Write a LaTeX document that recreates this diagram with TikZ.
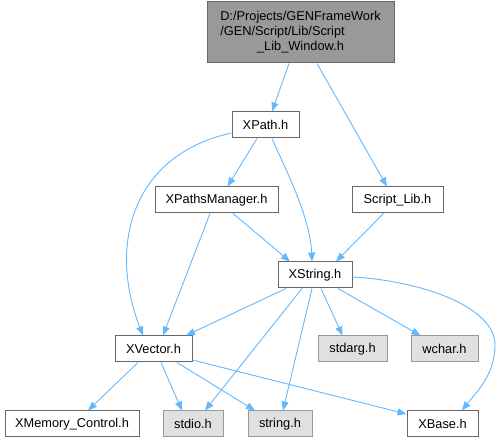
\documentclass[tikz,border=0pt]{standalone}
\usepackage{fontspec}
\setmainfont{Liberation Sans}
\usetikzlibrary{arrows.meta}
\definecolor{edgec}{HTML}{63B8FF}
\definecolor{bord}{HTML}{666666}
\definecolor{sysbord}{HTML}{999999}
\definecolor{sysfill}{HTML}{E0E0E0}
\definecolor{topfill}{HTML}{999999}
\begin{document}
\begin{tikzpicture}[x=1pt,y=-1pt,
  every node/.style={font=\fontsize{12.8}{15}\selectfont, inner sep=0pt, line width=1pt},
  nd/.style={draw=bord, fill=white, minimum height=26pt},
  sysnd/.style={draw=sysbord, fill=sysfill, minimum height=26pt},
  topnd/.style={draw=bord, fill=topfill, minimum height=61pt, minimum width=187pt},
  edge/.style={draw=edgec, line width=0.9pt, -{Triangle[length=9pt,width=7pt]}}
]
\useasboundingbox (0,0) rectangle (501,443);
\node[topnd] (top) at (300.5,32.5) {\begin{tabular}{@{}l@{}}D:/Projects/GENFrameWork\\/GEN/Script/Lib/Script\\\multicolumn{1}{@{}c@{}}{\_Lib\_Window.h}\end{tabular}};
\node[nd, minimum width=67pt] (xpath) at (265.5,125) {XPath.h};
\node[nd, minimum width=123pt] (xpm) at (216.5,200) {XPathsManager.h};
\node[nd, minimum width=91pt] (slib) at (397.5,200) {Script\_Lib.h};
\node[nd, minimum width=74pt] (xstr) at (315,275) {XString.h};
\node[nd, minimum width=77pt] (xvec) at (153.5,349) {XVector.h};
\node[sysnd, minimum width=69pt] (stdarg) at (352.5,349) {stdarg.h};
\node[sysnd, minimum width=67pt] (wchar) at (444.5,349) {wchar.h};
\node[nd, minimum width=134pt] (xmem) at (72,424) {XMemory\_Control.h};
\node[sysnd, minimum width=60pt] (stdio) at (193,424) {stdio.h};
\node[sysnd, minimum width=64pt] (strh) at (280,424) {string.h};
\node[nd, minimum width=71pt] (xbase) at (442.5,424) {XBase.h};

\draw[edge] ([xshift=-11.5pt]top.south) -- ([xshift=6.5pt]xpath.north);
\draw[edge] ([xshift=16.5pt]top.south) -- ([xshift=-10.5pt]slib.north);
\draw[edge] ([xshift=-8.5pt]xpath.south) -- ([xshift=11pt]xpm.north);
\draw[edge] ([yshift=-8pt]xpath.west) .. controls +(-100,22) and +(-35,-90) .. ([xshift=-10.5pt]xvec.north);
\draw[edge] ([xshift=6.5pt]xpath.south) .. controls +(14,32) and +(-2,-45) .. ([xshift=-3pt]xstr.north);
\draw[edge] ([xshift=-6.5pt]xpm.south) -- ([xshift=9.5pt]xvec.north);
\draw[edge] ([xshift=16.5pt]xpm.south) -- ([xshift=-25pt]xstr.north);
\draw[edge] ([xshift=-14pt]slib.south) -- ([xshift=21pt]xstr.north);
\draw[edge] ([xshift=-29pt]xstr.south) -- ([xshift=32.5pt]xvec.north);
\draw[edge] ([xshift=-13pt]xstr.south) -- ([xshift=12pt]stdio.north);
\draw[edge] ([xshift=-3pt]xstr.south) -- ([xshift=3pt]strh.north);
\draw[edge] ([xshift=6pt]xstr.south) -- ([xshift=-10pt]stdarg.north);
\draw[edge] ([xshift=23pt]xstr.south) -- ([xshift=-24pt]wchar.north);
\draw[edge] ([yshift=-2pt]xstr.east) .. controls +(70,4) and +(0,-38) .. (495,345) .. controls +(0,30) and +(14,-18) .. ([xshift=19.5pt]xbase.north);
\draw[edge] ([xshift=-15.5pt]xvec.south) -- ([xshift=16pt]xmem.north);
\draw[edge] ([xshift=7.5pt]xvec.south) -- ([xshift=-11pt]stdio.north);
\draw[edge] ([xshift=23.5pt]xvec.south) -- ([xshift=-25pt]strh.north);
\draw[edge] ([yshift=-11pt]xvec.east) -- ([yshift=10pt]xbase.west);
\end{tikzpicture}
\end{document}
